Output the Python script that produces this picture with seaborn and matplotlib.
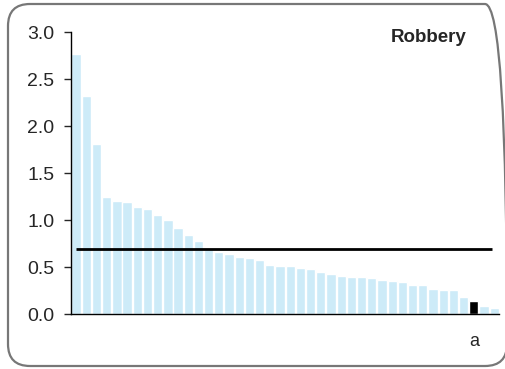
import numpy as np
import pandas as pd
import matplotlib.pyplot as plt
from matplotlib.patches import FancyBboxPatch
import seaborn as sns

sns.set_style("white")
plt.rcParams['font.family'] = ['Liberation Sans', 'DejaVu Sans']

# rates, sorted high to low
rates = [2.77, 2.32, 1.81, 1.245, 1.20, 1.19, 1.14, 1.12, 1.05, 1.00,
         0.915, 0.84, 0.78, 0.70, 0.66, 0.64, 0.61, 0.60, 0.575, 0.52,
         0.51, 0.51, 0.49, 0.48, 0.45, 0.425, 0.40, 0.395, 0.39, 0.38,
         0.36, 0.35, 0.34, 0.31, 0.31, 0.27, 0.26, 0.26, 0.18, 0.14,
         0.085, 0.065]
highlight = 39          # the black bar
average = 0.69
title = "Robbery"
corner_label = "a"

df = pd.DataFrame({"pos": [str(i) for i in range(len(rates))], "rate": rates})
colors = ["#cdebf8"] * len(rates)
colors[highlight] = "black"

fig = plt.figure(figsize=(5.05, 3.69), dpi=100)
ax = fig.add_axes([0.1406, 0.149, 0.848, 0.764])
ax.patch.set_alpha(0)

sns.barplot(data=df, x="pos", y="rate", hue="pos", palette=colors,
            width=0.91, saturation=1, legend=False, ax=ax)
ax.hlines(average, -0.05, len(rates) - 1.2, color="black", lw=2)

ax.set_ylim(0, 3.0)
ax.set_xlim(-0.5, len(rates) - 0.5)
ticks = np.arange(0, 3.01, 0.5)
ax.set_yticks(ticks)
ax.set_yticklabels([f"{v:.1f}" for v in ticks], fontsize=14)
ax.set_xticks([])
ax.set_xlabel("")
ax.set_ylabel("")
ax.tick_params(axis="y", length=5, width=1, direction="out", left=True, pad=7)
for s in ["top", "right"]:
    ax.spines[s].set_visible(False)
for s in ["left", "bottom"]:
    ax.spines[s].set_color("black")
    ax.spines[s].set_linewidth(1)

fig.text(466 / 505, 1 - 37 / 369, title, ha="right", va="center",
         fontsize=13.5, fontweight="bold")
fig.text(474 / 505, 1 - 342 / 369, corner_label, ha="center", va="center",
         fontsize=13)

# rounded border round the whole figure (runs off the right edge)
border = FancyBboxPatch((0.08, 0.03), 4.99, 3.62,
                        boxstyle="round,pad=0,rounding_size=0.22",
                        transform=fig.dpi_scale_trans, fill=False,
                        edgecolor="#777777", lw=1.6, zorder=-1)
fig.patches.append(border)

fig.savefig("out.png", dpi=100)
